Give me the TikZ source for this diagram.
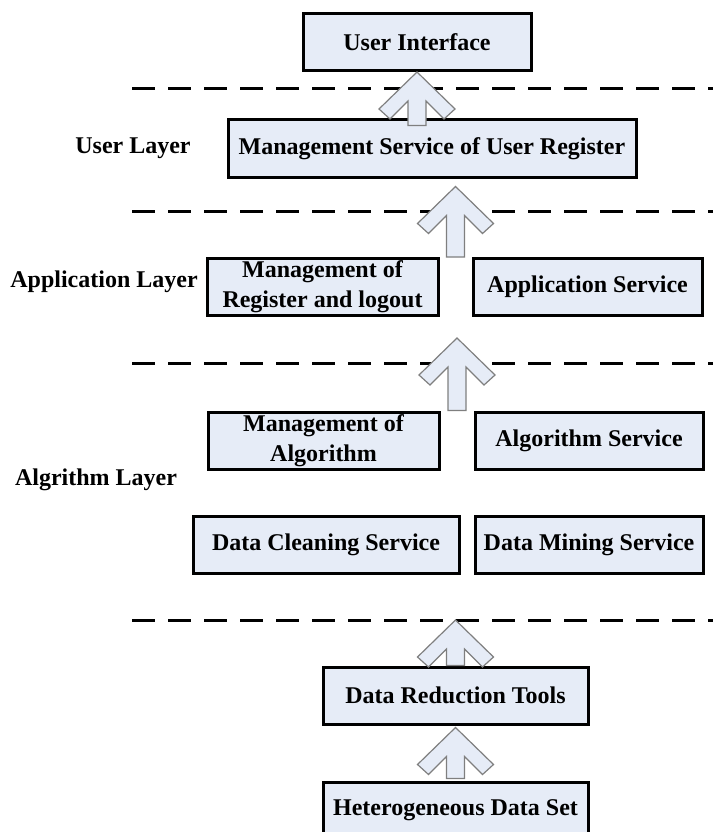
\documentclass[tikz,border=0pt]{standalone}
\usepackage{fontspec}
\setmainfont{Liberation Serif}
\usetikzlibrary{calc}

\definecolor{boxfill}{HTML}{E6ECF7}
\definecolor{arrowgray}{HTML}{7F7F7F}

\tikzset{
  layerbox/.style={draw, line width=3pt, fill=boxfill, inner sep=0pt,
    minimum height=57pt, align=center,
    font=\fontsize{24}{30}\selectfont\bfseries},
  layername/.style={font=\fontsize{24}{30}\selectfont\bfseries},
  cutline/.style={line width=3pt, dash pattern=on 23pt off 13pt},
  fatarrow/.style={draw=arrowgray, fill=boxfill, line width=1.2pt, line join=miter}
}

% hollow block arrow: #1 tip, #2 foot of the shaft
\newcommand{\fatup}[2]{%
  \draw[fatarrow] let \p1=(#1), \p2=(#2) in
    (\x1,\y1) -- ++(38,37) -- ++(-11,10) -- ++(-18,-18)
    -- (\x1+9pt,\y2) -- (\x1-9pt,\y2) -- (\x1-9pt,\y1-29pt)
    -- ++(-18,18) -- ++(-11,-10) -- cycle;}

\begin{document}
\begin{tikzpicture}[x=1pt, y=-1pt]
\useasboundingbox (0,0) rectangle (713,832);
\clip (0,0) rectangle (713,832);

% Layer borders
\coordinate (cut1) at (132,89);
\coordinate (cut2) at (132,211);
\coordinate (cut3) at (132,363);
\coordinate (cut4) at (132,620);
\foreach \c in {cut1,cut2,cut3,cut4}
  \draw[cutline] (\c) -- (\c -| 713,0);

% Boxes
\node[layerbox, minimum width=228pt] (ui) at (417,42) {User Interface};
\node[layerbox, minimum width=408pt] (msur) at (432,148.5) {Management Service of User Register};
\node[layerbox, minimum width=231pt] (mrl) at (322.5,287) {Management of\\Register and logout};
\node[layerbox, minimum width=229pt] (as) at (587.5,287) {Application Service};
\node[layerbox, minimum width=231pt] (mga) at (323.5,440.5) {Management of\\Algorithm};
\node[layerbox, minimum width=228pt] (algs) at (589,440.5) {Algorithm Service};
\node[layerbox, minimum width=266pt] (dcs) at (326,544.5) {Data Cleaning Service};
\node[layerbox, minimum width=228pt] (dms) at (589,544.5) {Data Mining Service};
\node[layerbox, minimum width=265pt] (dr) at (455.5,695.5) {Data Reduction Tools};
\node[layerbox, minimum width=265pt] (hds) at (455.5,810.5) {Heterogeneous Data Set};

% Layer names
\node[layername] (ul) at (133,148) {User Layer};
\node[layername] (al) at (104,282) {Application Layer};
\node[layername] (agl) at (96,480) {Algrithm Layer};

% Arrows
\coordinate (gap1) at ($(mrl.east)!0.5!(as.west)$);
\coordinate (gap2) at ($(mga.east)!0.5!(algs.west)$);
\fatup{ui.south}{$(ui.south |- msur.north)+(0,7)$}
\fatup{$(gap1 |- msur.south)+(0,8)$}{gap1 |- mrl.north}
\fatup{$(gap2 |- mrl.south)+(0,21)$}{gap2 |- mga.north}
\fatup{dr.north |- cut4}{dr.north}
\fatup{$(dr.south)+(0,2)$}{$(hds.north)+(0,-2)$}

\end{tikzpicture}
\end{document}
